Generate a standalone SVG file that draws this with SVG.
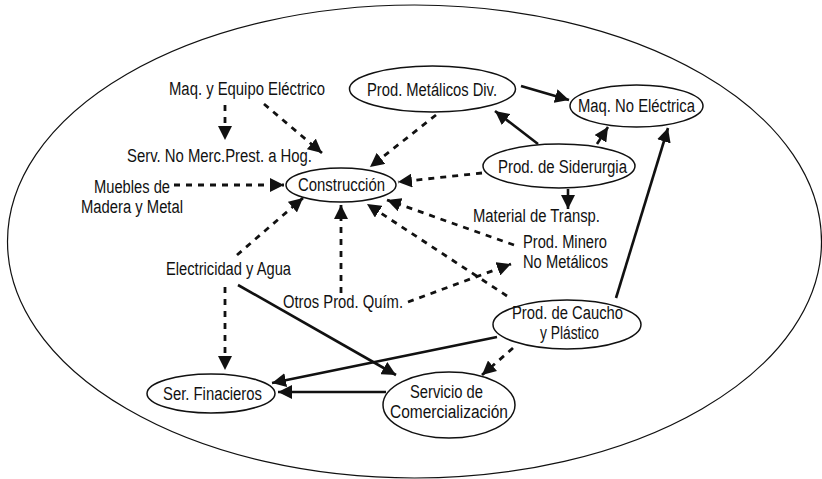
<svg xmlns="http://www.w3.org/2000/svg" width="822" height="479" viewBox="0 0 822 479">
<style>
text{font-family:"Liberation Sans Narrow","Liberation Sans",Arial,sans-serif;font-size:18px;fill:#111;}
.node{fill:#fff;stroke:#111;stroke-width:1.5;}
.s{stroke:#111;stroke-width:2.6;fill:none;marker-end:url(#ah);}
.d{stroke:#111;stroke-width:2.8;fill:none;stroke-dasharray:6 6;marker-end:url(#ah);}
</style>
<defs>
<marker id="ah" markerUnits="userSpaceOnUse" markerWidth="15" markerHeight="14" refX="14" refY="7" orient="auto">
<path d="M0,0 L14,7 L0,14 z" fill="#111"/>
</marker>
</defs>
<rect width="822" height="479" fill="#fff"/>
<ellipse id="outer" cx="414.5" cy="241.5" rx="407" ry="236.5" fill="none" stroke="#111" stroke-width="1.2"/>

<g id="connectors">
<line class="s" x1="521" y1="86" x2="569" y2="100"/>
<line class="s" x1="538" y1="144" x2="495" y2="111"/>
<line class="s" x1="597" y1="144" x2="608" y2="127"/>
<line class="s" x1="568" y1="189" x2="568" y2="209"/>
<line class="s" x1="616" y1="298" x2="668" y2="128"/>
<line class="s" x1="238" y1="285" x2="396" y2="375"/>
<line class="s" x1="497" y1="337" x2="272" y2="383"/>
<line class="s" x1="386" y1="392" x2="278" y2="392"/>
<line class="d" x1="225" y1="105" x2="225" y2="140"/>
<line class="d" x1="264" y1="104" x2="322" y2="153"/>
<line class="d" x1="436" y1="115" x2="370" y2="167"/>
<line class="d" x1="174" y1="185" x2="284" y2="185"/>
<line class="d" x1="482" y1="173" x2="398" y2="182"/>
<line class="d" x1="237" y1="255" x2="303" y2="198"/>
<line class="d" x1="341" y1="293" x2="341" y2="205"/>
<line class="d" x1="514" y1="245" x2="387" y2="200"/>
<line class="d" x1="507" y1="296" x2="367" y2="204"/>
<line class="d" x1="408" y1="302" x2="511" y2="264"/>
<line class="d" x1="225" y1="287" x2="225" y2="370"/>
<line class="d" x1="513" y1="348" x2="482" y2="375"/>
</g>

<g id="n-metalicos">
<ellipse class="node" cx="432.5" cy="89" rx="83" ry="23"/>
<text x="367" y="96" textLength="130" lengthAdjust="spacingAndGlyphs">Prod. Metálicos Div.</text>
</g>
<g id="n-maqnoelec">
<ellipse class="node" cx="636.5" cy="106" rx="66.5" ry="21"/>
<text x="578" y="112" textLength="117" lengthAdjust="spacingAndGlyphs">Maq. No Eléctrica</text>
</g>
<g id="n-construccion">
<ellipse class="node" cx="341" cy="185" rx="55" ry="17"/>
<text x="298" y="191" textLength="87" lengthAdjust="spacingAndGlyphs">Construcción</text>
</g>
<g id="n-siderurgia">
<ellipse class="node" cx="559" cy="166" rx="76" ry="22"/>
<text x="498" y="173" textLength="129" lengthAdjust="spacingAndGlyphs">Prod. de Siderurgia</text>
</g>
<g id="n-caucho">
<ellipse class="node" cx="567" cy="324.5" rx="74" ry="24.5"/>
<text x="512" y="319" textLength="111" lengthAdjust="spacingAndGlyphs">Prod. de Caucho</text>
<text x="540" y="339" textLength="59" lengthAdjust="spacingAndGlyphs">y Plástico</text>
</g>
<g id="n-comercializacion">
<ellipse class="node" cx="449" cy="405" rx="66" ry="33"/>
<text x="410" y="398" textLength="73" lengthAdjust="spacingAndGlyphs">Servicio de</text>
<text x="390" y="418" textLength="118" lengthAdjust="spacingAndGlyphs">Comercialización</text>
</g>
<g id="n-financieros">
<ellipse class="node" cx="211" cy="393.5" rx="64" ry="19.5"/>
<text x="163" y="400" textLength="99" lengthAdjust="spacingAndGlyphs">Ser. Finacieros</text>
</g>
<g id="n-maqequipo">
<text x="169" y="95" textLength="156" lengthAdjust="spacingAndGlyphs">Maq. y Equipo Eléctrico</text>
</g>
<g id="n-servnomerc">
<text x="127" y="162" textLength="185" lengthAdjust="spacingAndGlyphs">Serv. No Merc.Prest. a Hog.</text>
</g>
<g id="n-muebles">
<text x="94" y="193" textLength="76" lengthAdjust="spacingAndGlyphs">Muebles de</text>
<text x="81" y="213" textLength="102" lengthAdjust="spacingAndGlyphs">Madera y Metal</text>
</g>
<g id="n-material">
<text x="473" y="222" textLength="127" lengthAdjust="spacingAndGlyphs">Material de Transp.</text>
</g>
<g id="n-minero">
<text x="523" y="248" textLength="84" lengthAdjust="spacingAndGlyphs">Prod. Minero</text>
<text x="523" y="268" textLength="85" lengthAdjust="spacingAndGlyphs">No Metálicos</text>
</g>
<g id="n-electricidad">
<text x="166" y="275" textLength="125" lengthAdjust="spacingAndGlyphs">Electricidad y Agua</text>
</g>
<g id="n-quimicos">
<text x="283" y="308" textLength="120" lengthAdjust="spacingAndGlyphs">Otros Prod. Quím.</text>
</g>
</svg>
